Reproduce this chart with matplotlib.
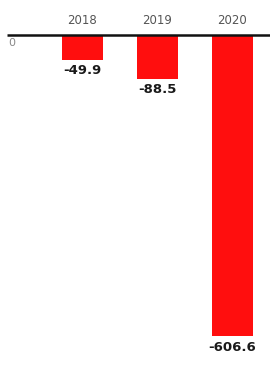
import matplotlib.pyplot as plt

years = ["2018", "2019", "2020"]
values = [-49.9, -88.5, -606.6]

PX_PER_UNIT = 0.497
W, H = 270, 376
AXIS_Y = 35  # pixel row of zero line from top

fig = plt.figure(figsize=(W / 100, H / 100), dpi=100)
ax = fig.add_axes([0, 0, 1, 1])

x = range(len(years))
ax.bar(x, values, width=0.55, color="#ff0e0e", linewidth=0)

# scales: bars centred at pixel 82.5, 157.5, 232.5
ax.set_xlim(-82.5 / 75, (W - 82.5) / 75)
ax.set_ylim(-(H - AXIS_Y) / PX_PER_UNIT, AXIS_Y / PX_PER_UNIT)
ax.axis("off")

# zero line
ax.hlines(0, -82.5 / 75 + 7 / 75, (W - 82.5) / 75, color="#111111", linewidth=1.8)
ax.text(-82.5 / 75 + 8 / 75, -7, "0", color="#888888", fontsize=8, va="top", ha="left")

for i, (yr, v) in enumerate(zip(years, values)):
    ax.text(i, 14 / PX_PER_UNIT, yr, ha="center", va="center",
            fontsize=8.5, color="#555555")
    ax.annotate(f"{v:.1f}", (i, v), xytext=(0, -3), textcoords="offset points",
                ha="center", va="top", fontsize=9.5, fontweight="bold",
                color="#1a1a1a")

fig.savefig("out.png", dpi=100)
